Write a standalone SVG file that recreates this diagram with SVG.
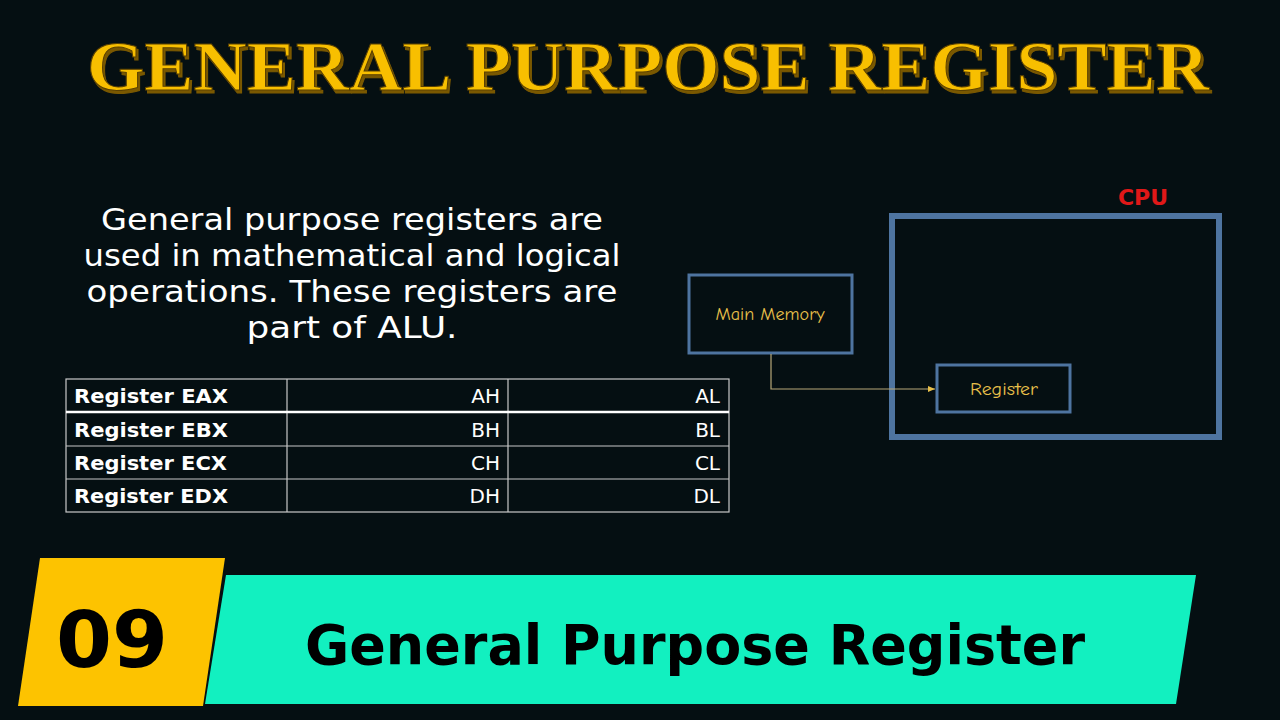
<svg xmlns="http://www.w3.org/2000/svg" width="1280" height="720" viewBox="0 0 1280 720">
<defs>
<style>
.box{fill:none;stroke:#4e74a0;stroke-width:3}
.lbl{font-family:"Comic Neue","DejaVu Sans",sans-serif;fill:#e9c04a;font-size:17px;text-anchor:middle}
.para{font-family:"DejaVu Sans",sans-serif;fill:#ffffff;font-size:31px;text-anchor:middle}
.cell{font-family:"DejaVu Sans",sans-serif;fill:#ffffff;font-size:20px}
.grid{stroke:#c8c8c8;stroke-width:1.2;fill:none}
</style>
<filter id="shadow" x="-5%" y="-20%" width="110%" height="140%">
<feDropShadow dx="2" dy="3" stdDeviation="0.5" flood-color="#7a5800"/>
</filter>
<marker id="arr" markerWidth="8" markerHeight="8" refX="7" refY="4" orient="auto" markerUnits="userSpaceOnUse">
<path d="M0,1 L7,4 L0,7 Z" fill="#e9c04a"/>
</marker>
</defs>
<rect width="1280" height="720" fill="#050f12"/>
<g id="title">
<text x="648" y="90" text-anchor="middle" font-family="Liberation Serif,serif" font-weight="bold" font-size="70" textLength="1122" lengthAdjust="spacingAndGlyphs" fill="#f8bf00" stroke="#5a4000" stroke-width="1" filter="url(#shadow)">GENERAL PURPOSE REGISTER</text>
</g>
<g id="description">
<text class="para" x="352" y="230" textLength="502" lengthAdjust="spacingAndGlyphs">General purpose registers are</text>
<text class="para" x="352" y="266" textLength="537" lengthAdjust="spacingAndGlyphs">used in mathematical and logical</text>
<text class="para" x="352" y="302" textLength="531" lengthAdjust="spacingAndGlyphs">operations. These registers are</text>
<text class="para" x="352" y="338" textLength="211" lengthAdjust="spacingAndGlyphs">part of ALU.</text>
</g>
<g id="table">
<rect class="grid" x="66" y="379" width="663" height="133"/>
<line class="grid" x1="287" y1="379" x2="287" y2="512"/>
<line class="grid" x1="508" y1="379" x2="508" y2="512"/>
<line x1="66" y1="412" x2="729" y2="412" stroke="#ffffff" stroke-width="2.5"/>
<line class="grid" x1="66" y1="446" x2="729" y2="446"/>
<line class="grid" x1="66" y1="479" x2="729" y2="479"/>
<g font-weight="bold">
<text class="cell" x="74" y="403" textLength="154" lengthAdjust="spacingAndGlyphs">Register EAX</text>
<text class="cell" x="74" y="437" textLength="154" lengthAdjust="spacingAndGlyphs">Register EBX</text>
<text class="cell" x="74" y="470" textLength="153" lengthAdjust="spacingAndGlyphs">Register ECX</text>
<text class="cell" x="74" y="503" textLength="154" lengthAdjust="spacingAndGlyphs">Register EDX</text>
</g>
<g text-anchor="end">
<text class="cell" x="500" y="403">AH</text>
<text class="cell" x="720" y="403">AL</text>
<text class="cell" x="500" y="437">BH</text>
<text class="cell" x="720" y="437">BL</text>
<text class="cell" x="500" y="470">CH</text>
<text class="cell" x="720" y="470">CL</text>
<text class="cell" x="500" y="503">DH</text>
<text class="cell" x="720" y="503">DL</text>
</g>
</g>
<g id="cpu">
<rect x="892" y="216" width="327" height="221" fill="none" stroke="#4e74a0" stroke-width="6"/>
<text x="1143" y="205" text-anchor="middle" font-family="DejaVu Sans,sans-serif" font-size="22" font-weight="bold" fill="#e01818">CPU</text>
</g>
<g id="main-memory">
<rect class="box" x="689" y="275" width="163" height="78"/>
<text class="lbl" x="770" y="320" textLength="109" lengthAdjust="spacingAndGlyphs">Main Memory</text>
</g>
<g id="register">
<rect class="box" x="937" y="365" width="133" height="47"/>
<text class="lbl" x="1004" y="395" textLength="68" lengthAdjust="spacingAndGlyphs">Register</text>
</g>
<g id="connectors">
<path d="M771,354 V389 H935" fill="none" stroke="#b8a878" stroke-width="1.2" marker-end="url(#arr)"/>
</g>
<g id="footer">
<polygon points="40,558 225,558 203,706 18,706" fill="#fdc300"/>
<polygon points="226,575 1196,575 1176,704 205,704" fill="#12f0c0"/>
<text x="112" y="667" text-anchor="middle" font-family="DejaVu Sans,sans-serif" font-weight="bold" font-size="78" textLength="112" lengthAdjust="spacingAndGlyphs" fill="#000">09</text>
<text x="695" y="664" text-anchor="middle" font-family="DejaVu Sans,sans-serif" font-weight="bold" font-size="56" textLength="780" lengthAdjust="spacingAndGlyphs" fill="#000">General Purpose Register</text>
</g>
</svg>
